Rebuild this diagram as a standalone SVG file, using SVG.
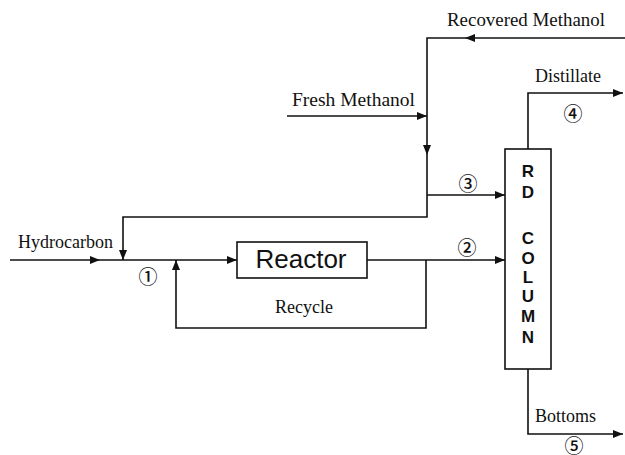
<svg xmlns="http://www.w3.org/2000/svg" width="625" height="455" viewBox="0 0 625 455">
<defs>
<marker id="ah" markerWidth="10" markerHeight="8" refX="10" refY="4" orient="auto" markerUnits="userSpaceOnUse">
<path d="M0,0 L10,4 L0,8 Z" fill="#111"/>
</marker>
<style>
.ln{fill:none;stroke:#111;stroke-width:1.6}
.lbl{font-family:"Liberation Serif","Times New Roman",serif;font-size:18px;fill:#111}
.num{font-family:"Noto Sans CJK JP","DejaVu Sans",sans-serif;font-size:19px;font-weight:500;fill:#111;text-anchor:middle;dominant-baseline:central}
.box{fill:#fff;stroke:#111;stroke-width:1.6}
.col{font-family:"Liberation Sans",Arial,sans-serif;font-weight:bold;font-size:17px;fill:#111;text-anchor:middle}
</style>
</defs>
<rect width="625" height="455" fill="#fff"/>
<g id="connectors">
<path class="ln" d="M10,260 L100,260" marker-end="url(#ah)"/>
<path class="ln" d="M100,260 L237,260" marker-end="url(#ah)"/>
<path class="ln" d="M625,38 L465,38" marker-end="url(#ah)"/>
<path class="ln" d="M465,38 L427,38 L427,155" marker-end="url(#ah)"/>
<path class="ln" d="M427,155 L427,217 L123,217 L123,260" marker-end="url(#ah)"/>
<path class="ln" d="M287,116 L427,116" marker-end="url(#ah)"/>
<path class="ln" d="M427,195 L505,195" marker-end="url(#ah)"/>
<path class="ln" d="M367,260 L505,260" marker-end="url(#ah)"/>
<path class="ln" d="M426,260 L426,328 L176,328 L176,260" marker-end="url(#ah)"/>
<path class="ln" d="M528,149 L528,93 L623,93" marker-end="url(#ah)"/>
<path class="ln" d="M528,369 L528,434 L623,434" marker-end="url(#ah)"/>
</g>
<g id="reactor">
<rect class="box" x="237" y="242" width="130" height="36"/>
<text x="301" y="268" font-family="Liberation Sans, Arial, sans-serif" font-size="26" fill="#111" text-anchor="middle">Reactor</text>
</g>
<g id="rd-column">
<rect class="box" x="505" y="149" width="46" height="220"/>
<text class="col" x="528" y="177">R</text>
<text class="col" x="528" y="198">D</text>
<text class="col" x="528" y="244">C</text>
<text class="col" x="528" y="264">O</text>
<text class="col" x="528" y="283">L</text>
<text class="col" x="528" y="302">U</text>
<text class="col" x="528" y="322">M</text>
<text class="col" x="528" y="343">N</text>
</g>
<g id="labels">
<text class="lbl" x="18" y="248">Hydrocarbon</text>
<text class="lbl" x="447" y="26" textLength="158" lengthAdjust="spacingAndGlyphs">Recovered Methanol</text>
<text class="lbl" x="292" y="106" textLength="123" lengthAdjust="spacingAndGlyphs">Fresh Methanol</text>
<text class="lbl" x="535" y="82">Distillate</text>
<text class="lbl" x="535" y="422">Bottoms</text>
<text class="lbl" x="275" y="313">Recycle</text>
<text class="num" x="148" y="275">①</text>
<text class="num" x="467" y="246">②</text>
<text class="num" x="468" y="182">③</text>
<text class="num" x="573" y="112">④</text>
<text class="num" x="574" y="444">⑤</text>
</g>
</svg>
